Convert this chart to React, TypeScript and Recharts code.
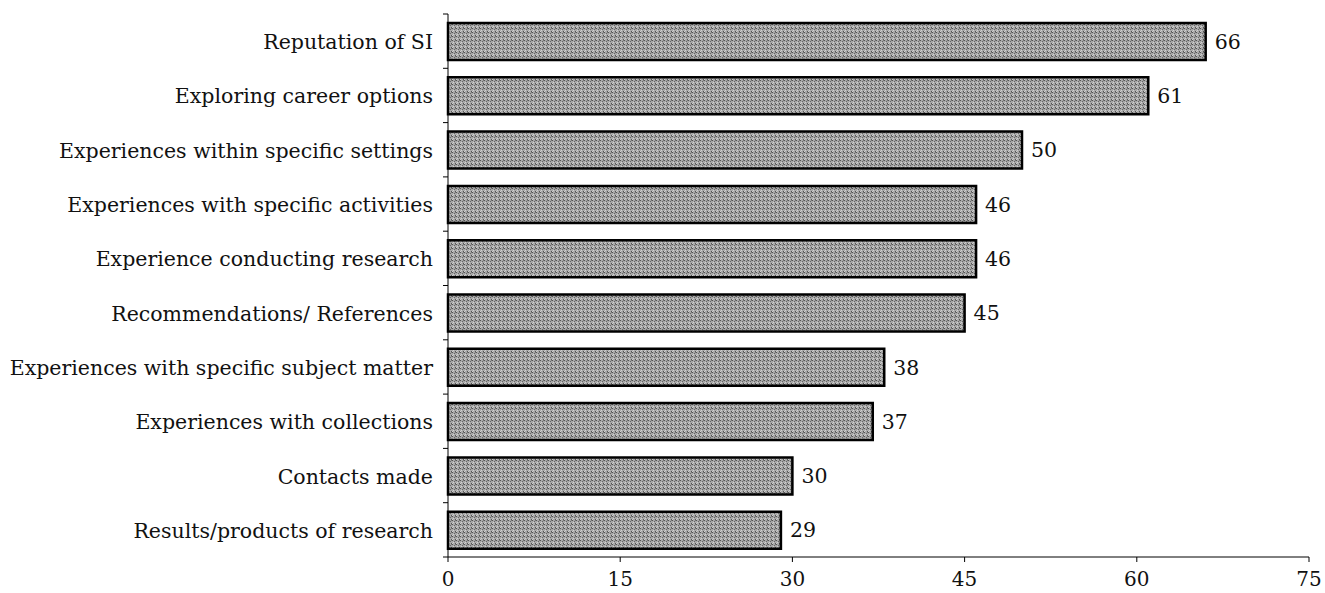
import { BarChart, Bar, XAxis, YAxis, LabelList } from 'recharts'

const categories = [
  'Reputation of SI',
  'Exploring career options',
  'Experiences within specific settings',
  'Experiences with specific activities',
  'Experience conducting research',
  'Recommendations/ References',
  'Experiences with specific subject matter',
  'Experiences with collections',
  'Contacts made',
  'Results/products of research',
]

const counts = [66, 61, 50, 46, 46, 45, 38, 37, 30, 29]

const xTicks = [0, 15, 30, 45, 60, 75]

const data = categories.map((name, i) => ({ name, count: counts[i] }))

const font = '"DejaVu Serif", serif'

function CategoryTick(props: any) {
  const { x, y, payload, index, visibleTicksCount } = props
  const half = payload.offset ?? 0
  const axisX = x + 8
  return (
    <g>
      <line x1={axisX - 5} x2={axisX} y1={y - half} y2={y - half} stroke="#000" strokeWidth={1} />
      {index === visibleTicksCount - 1 && (
        <line x1={axisX - 5} x2={axisX} y1={y + half} y2={y + half} stroke="#000" strokeWidth={1} />
      )}
      <text x={x - 7} y={y} dy={8} textAnchor="end" fill="#111" fontSize={20.5} fontFamily={font}>
        {payload.value}
      </text>
    </g>
  )
}

export default function App() {
  return (
    <div style={{ position: 'fixed', left: 0, top: 0, background: '#fff' }}>
      <BarChart
        width={1325}
        height={593}
        data={data}
        layout="vertical"
        margin={{ top: 14, right: 16, left: 0, bottom: 0 }}
        barSize={37}
      >
        <defs>
          <pattern id="dots" width="4" height="4" patternUnits="userSpaceOnUse">
            <rect width="4" height="4" fill="#a8a8a8" />
            <rect x="0" y="0" width="1" height="1" fill="#555" />
            <rect x="2" y="1" width="1" height="1" fill="#666" />
            <rect x="3" y="3" width="1" height="1" fill="#555" />
            <rect x="1" y="2" width="1" height="1" fill="#d0d0d0" />
            <rect x="3" y="0" width="1" height="1" fill="#777" />
            <rect x="0" y="3" width="1" height="1" fill="#cfcfcf" />
          </pattern>
        </defs>
        <XAxis
          type="number"
          domain={[0, 75]}
          ticks={xTicks}
          tick={{ fill: '#111', fontSize: 20, fontFamily: font }}
          axisLine={{ stroke: '#000' }}
          tickLine={{ stroke: '#000' }}
          tickSize={5}
          tickMargin={10}
          height={36}
        />
        <YAxis
          type="category"
          dataKey="name"
          width={448}
          axisLine={{ stroke: '#000' }}
          tickLine={false}
          tick={<CategoryTick />}
          interval={0}
        />
        <Bar dataKey="count" fill="url(#dots)" stroke="#000" strokeWidth={2.5} isAnimationActive={false}>
          <LabelList
            dataKey="count"
            position="right"
            offset={9}
            fill="#111"
            fontSize={20.5}
            fontFamily={font}
          />
        </Bar>
      </BarChart>
    </div>
  )
}
